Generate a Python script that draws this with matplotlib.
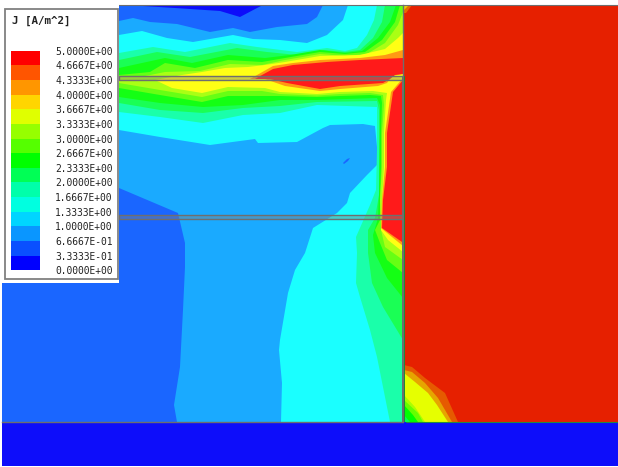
import matplotlib
matplotlib.use("Agg")
import matplotlib.pyplot as plt
from matplotlib.colors import ListedColormap, BoundaryNorm
from matplotlib.patches import Rectangle, Polygon
import numpy as np

# ---- legend data
legend_title = "J [A/m^2]"
level_values = [0.0, 0.33333, 0.66667, 1.0, 1.33333, 1.66667, 2.0, 2.33333, 2.66667,
                3.0, 3.33333, 3.66667, 4.0, 4.33333, 4.66667, 5.0]
level_labels = ["0.0000E+00", "3.3333E-01", "6.6667E-01", "1.0000E+00", "1.3333E+00",
                "1.6667E+00", "2.0000E+00", "2.3333E+00", "2.6667E+00", "3.0000E+00",
                "3.3333E+00", "3.6667E+00", "4.0000E+00", "4.3333E+00", "4.6667E+00",
                "5.0000E+00"]
legend_colors = ["#0000ff", "#0a50ff", "#0a96ff", "#00d5ff", "#00ffe0", "#00ffaa", "#00ff55",
                 "#00ff00", "#55ff00", "#96ff00", "#e0ff00", "#ffd500", "#ff9600", "#ff5500",
                 "#ff0000"]

# ---- field colours
c_low = "#0d0dfa"
c_blue = "#1a66ff"
c_ltblue = "#1aaaff"
c_cyan = "#1affff"
c_aqua = "#1affaa"
c_spring = "#1aff55"
c_green = "#14ff14"
c_lime = "#66ff14"
c_yellowgreen = "#aaff14"
c_yellow = "#ffff14"
c_orange = "#ff9a14"
c_red = "#ff1a1a"
c_right = "#e62000"

# ---- contour regions (pixel-like model coordinates)
top_spot = [(127,5),(175,8),(220,11),(240,17),(257,8),(263,5)]
small_spot = [(343,163),(347,159),(350,158),(348,161),(344,164)]
region_ltblue = [(119,21),(133,18),(150,22),(177,24),(210,32),(233,28),(250,32),(277,27),(307,24),
                 (317,17),(323,5),(403,5),(403,422),(177,422),(174,405),(180,367),(183,310),
                 (185,267),(185,243),(178,213),(119,188)]
region_cyan = [(119,35),(142,31),(167,38),(193,42),(233,35),(253,39),(280,40),(307,43),(327,35),
               (343,20),(348,5),(403,5),(403,422),(281,422),(282,383),(279,350),(280,340),(288,293),
               (295,270),(305,253),(313,228),(337,213),(347,203),(350,193),(367,175),(377,165),
               (377,147),(375,126),(363,124),(330,125),(323,128),(297,142),(258,143),(255,139),
               (210,145),(160,137),(119,130)]
region_aqua = [(119,53),(153,47),(185,52),(230,43),(257,47),(297,52),(327,48),(345,51),(357,48),
               (367,35),(374,20),(377,5),(403,5),(403,422),(390,422),(383,387),(377,357),(370,330),
               (360,297),(356,283),(357,253),(356,237),(370,205),(376,190),(377,150),(377,107),
               (317,105),(280,113),(243,115),(203,123),(160,117),(119,112)]
region_spring = [(119,60),(157,52),(190,57),(237,48),(267,52),(297,55),(323,50),(345,52),(360,50),
                 (373,38),(382,22),(385,5),(403,5),(403,340),(383,307),(372,283),(368,253),
                 (368,230),(375,218),(379,195),(379,110),(377,101),(317,102),(280,106),(243,108),
                 (203,113),(160,110),(119,103)]
region_green = [(119,68),(165,58),(192,63),(228,55),(265,58),(290,55),(320,50),(345,53),(362,51),
                (378,38),(390,22),(396,5),(403,5),(403,298),(387,278),(375,253),(373,235),(378,218),
                (379,195),(380,133),(380,105),(377,98),(317,100),(280,100),(243,105),(203,107),
                (160,103),(119,97)]
region_lime = [(119,75),(150,72),(165,63),(195,68),(228,60),(262,62),(285,58),(320,52),(345,54),
               (365,52),(382,40),(395,22),(400,5),(403,5),(403,273),(387,260),(380,243),(375,230),
               (380,220),(380,200),(381,167),(381,133),(382,103),(381,96),(370,95),(340,96),
               (317,97),(280,96),(262,96),(228,96),(202,102),(160,95),(119,88)]
region_yellowgreen = [(119,77),(145,76),(165,72),(200,71),(230,64),(262,65),(285,60),(320,54),
                      (345,56),(367,54),(385,43),(398,25),(403,12),(403,260),(385,247),(381,230),
                      (380,200),(382,167),(382,133),(384,105),(383,95),(370,93),(340,94),(317,95.5),
                      (280,94),(262,91),(228,91),(202,97),(160,90),(119,83)]
region_yellow = [(155,80),(182,75),(202,72),(225,68),(248,67),(265,65),(285,62),(320,56),(360,55),
                 (385,49),(398,38),(403,33),(403,252),(388,240),(381,230),(382,200),(384,167),
                 (384,133),(386,100),(387,93),(373,91),(340,92),(317,94),(280,92),(265,88),
                 (228,87),(202,93),(172,88)]
region_orange_a = [(250,79),(273,66),(293,63),(320,60),(360,58),(385,55),(403,50),(403,74),(392,76),
                   (387,83),(378,86),(340,89),(320,91),(285,86),(265,79)]
region_orange_b = [(403,78),(391,92),(385,133),(385,167),(382,200),(381,228),(403,246)]
region_red_a = [(255,79),(262,75),(273,69),(293,65),(327,62),(360,60),(403,58),(403,74),(395,75),
                (390,79),(383,83),(340,86),(320,89),(287,83),(270,79)]
region_red_b = [(403,80),(393,92),(387,133),(387,167),(383,200),(382,228),(402,242),(403,242)]

# right-hand panel, corner and foot regions
corner_orange = [(404,5),(412,5),(406,13),(404,13)]
corner_yellow = [(404,5),(409,5),(404,10)]
foot_darkorange = [(404,365),(412,367),(425,378),(445,393),(458,422),(404,422)]
foot_orange = [(404,370),(412,372),(425,383),(438,398),(452,422),(404,422)]
foot_yellow = [(404,373),(415,382),(428,393),(437,405),(448,422),(404,422)]
foot_yellowgreen = [(404,395),(415,407),(425,422),(404,422)]
foot_lime = [(404,400),(418,413),(423,422),(404,422)]
foot_green = [(404,405),(413,415),(418,422),(404,422)]
foot_spring = [(404,415),(410,422),(404,422)]

layers = [
    (region_ltblue, c_ltblue), (top_spot, c_low), (small_spot, c_blue), (region_cyan, c_cyan),
    (region_aqua, c_aqua), (region_spring, c_spring), (region_green, c_green), (region_lime, c_lime),
    (region_yellowgreen, c_yellowgreen), (region_yellow, c_yellow), (region_orange_a, c_orange),
    (region_orange_b, c_orange), (region_red_a, c_red), (region_red_b, c_red),
]
right_layers = [
    (corner_orange, "#e66a00"), (corner_yellow, "#e6d000"),
    (foot_darkorange, "#e65a00"), (foot_orange, "#e6a500"), (foot_yellow, "#e6ff00"),
    (foot_yellowgreen, "#aaff00"), (foot_lime, "#66ff00"), (foot_green, "#00ff00"),
    (foot_spring, "#00ff55"),
]

fig = plt.figure(figsize=(6.18, 4.67), dpi=100, facecolor="white")
ax = fig.add_axes([0, 0, 1, 1])
ax.set_xlim(0, 618)
ax.set_ylim(467, 0)
ax.axis("off")

ax.add_patch(Rectangle((2, 5), 401, 417, fc=c_blue, ec="none", zorder=1))
ax.add_patch(Rectangle((403, 5), 215, 417, fc=c_right, ec="none", zorder=1))
ax.add_patch(Rectangle((2, 422), 616, 44, fc=c_low, ec="none", zorder=1))

for i, (pts, col) in enumerate(layers + right_layers):
    ax.add_patch(Polygon(pts, closed=True, fc=col, ec="none", zorder=2 + i * 0.01))

# geometry outlines
gray = "#6e6e6e"
for y0 in (75.5, 214.5):
    ax.add_patch(Rectangle((119, y0), 284, 4, fc=(0.5, 0.5, 0.5, 0.4), ec=gray, lw=1.0, zorder=4))
ax.add_patch(Rectangle((402.3, 76), 1.8, 346, fc=gray, ec="none", zorder=4))
ax.add_patch(Rectangle((404.1, 76), 1.3, 346, fc="#22883a", ec="none", zorder=4))
ax.plot([403.2, 403.2], [5, 76], color=gray, lw=1.0, zorder=4)
ax.plot([119, 618], [5.3, 5.3], color=gray, lw=0.8, zorder=4)
ax.plot([2, 403], [422, 422], color=gray, lw=1.0, zorder=4)
ax.plot([406, 618], [422, 422], color="#228844", lw=0.8, zorder=4)

# legend box
ax.add_patch(Rectangle((0, 0), 119, 283, fc="white", ec="none", zorder=5))
ax.add_patch(Rectangle((4.5, 8.8), 113, 270.5, fc="white", ec="#808080", lw=1.3, zorder=6))
ax.text(12, 20.5, legend_title, family="DejaVu Sans Mono", fontsize=7.8, fontweight="bold",
        color="#222222", va="center", ha="left", zorder=7)

# colour bar
W, H = 618.0, 467.0
cax = fig.add_axes([11 / W, 1 - 270.3 / H, 29 / W, 219.6 / H], zorder=10)
cmap = ListedColormap(legend_colors)
norm = BoundaryNorm(level_values, cmap.N)
cax.pcolormesh([0, 1], level_values, np.array(level_values[:-1]).reshape(-1, 1) + 0.01,
               cmap=cmap, norm=norm)
cax.set_xticks([])
cax.set_ylim(0, 5)
cax.yaxis.tick_right()
cax.set_yticks(level_values)
cax.set_yticklabels(level_labels, family="DejaVu Sans Mono", fontsize=6.9, color="#222222")
cax.tick_params(axis="y", length=0, pad=10.8)
for s in cax.spines.values():
    s.set_visible(False)

fig.savefig("out.png", dpi=100, facecolor="white")
